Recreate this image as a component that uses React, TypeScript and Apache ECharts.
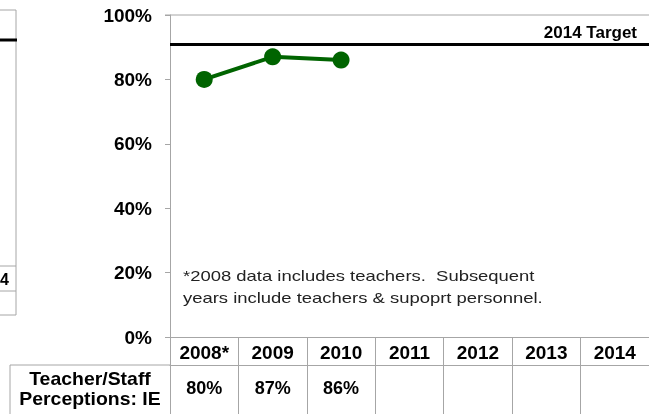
import React, { useEffect, useRef } from "react";
import * as echarts from "echarts";

const categories = ["2008*", "2009", "2010", "2011", "2012", "2013", "2014"];
const perceptionValues = [80, 87, 86, null, null, null, null];
const tableValues = ["80%", "87%", "86%", "", "", "", ""];
const targetValue = 91;
const targetLabel = "2014 Target";
const rowLabel = "Teacher/Staff\nPerceptions: IE";
const footnote = "*2008 data includes teachers.  Subsequent\nyears include teachers & supoprt personnel.";

const FONT = "'Liberation Sans', Arial, sans-serif";
const GRAY = "#a6a6a6";

export default function App() {
  const ref = useRef<HTMLDivElement>(null);
  useEffect(() => {
    if (!ref.current) return;
    const chart = echarts.init(ref.current, null, { renderer: "svg" });
    const gline = (x1: number, y1: number, x2: number, y2: number, stroke = GRAY, lineWidth = 1) => ({
      type: "line",
      shape: { x1, y1, x2, y2 },
      style: { stroke, lineWidth },
      silent: true,
    });
    chart.setOption({
      animation: false,
      grid: { left: 170, top: 15, width: 480, height: 322 },
      xAxis: [
        {
          type: "category",
          data: categories,
          boundaryGap: true,
          axisLine: { show: true, lineStyle: { color: GRAY, width: 1 } },
          axisTick: { show: true, length: 77, interval: 0, lineStyle: { color: GRAY, width: 1 } },
          axisLabel: { interval: 0, margin: 6, color: "#000", fontWeight: "bold", fontSize: 19, fontFamily: FONT },
          splitLine: { show: false },
        },
        {
          type: "category",
          data: tableValues,
          position: "bottom",
          offset: 28,
          boundaryGap: true,
          axisLine: { show: true, lineStyle: { color: GRAY, width: 1 } },
          axisTick: { show: false },
          axisLabel: { interval: 0, margin: 14, color: "#000", fontWeight: "bold", fontSize: 18, fontFamily: FONT },
          splitLine: { show: false },
        },
      ],
      yAxis: {
        type: "value",
        min: 0,
        max: 100,
        interval: 20,
        axisLine: { show: true, lineStyle: { color: GRAY, width: 1 } },
        axisTick: { show: true, length: 5, lineStyle: { color: GRAY } },
        axisLabel: { formatter: "{value}%", margin: 18, color: "#000", fontWeight: "bold", fontSize: 19, fontFamily: FONT },
        splitLine: { show: false },
      },
      series: [
        {
          type: "line",
          xAxisIndex: 0,
          data: perceptionValues,
          symbol: "circle",
          symbolSize: 17,
          lineStyle: { color: "#006400", width: 4 },
          itemStyle: { color: "#006400" },
          markLine: {
            silent: true,
            symbol: "none",
            lineStyle: { color: "#000", width: 3, type: "solid" },
            label: {
              show: true,
              position: "insideEndTop",
              formatter: targetLabel,
              color: "#000",
              fontWeight: "bold",
              fontSize: 17,
              fontFamily: FONT,
              distance: [12, 3],
            },
            data: [{ yAxis: targetValue }],
          },
        },
      ],
      graphic: [
        gline(165, 15, 649, 15),
        gline(10, 365, 170, 365),
        gline(10, 365, 10, 414),
        {
          type: "text",
          x: 90,
          y: 389,
          scaleX: 1.08,
          style: {
            text: rowLabel,
            x: 0,
            y: 0,
            fill: "#000",
            font: `bold 18px ${FONT}`,
            textAlign: "center",
            textVerticalAlign: "middle",
            lineHeight: 20,
          },
          silent: true,
        },
        {
          type: "text",
          x: 183,
          y: 265,
          scaleX: 1.23,
          style: {
            text: footnote,
            x: 0,
            y: 0,
            fill: "#222",
            font: `15px ${FONT}`,
            lineHeight: 22,
          },
          silent: true,
        },
        // partial neighbouring chart on the left edge
        gline(0, 10, 16, 10),
        gline(16, 10, 16, 315),
        gline(0, 40, 17, 40, "#000", 3),
        gline(0, 266, 16, 266),
        gline(0, 291, 16, 291),
        gline(0, 315, 16, 315),
        {
          type: "text",
          x: 0,
          y: 279,
          style: {
            text: "4",
            fill: "#000",
            font: `bold 16px ${FONT}`,
            textAlign: "left",
            textVerticalAlign: "middle",
          },
          silent: true,
        },
      ],
    });
    return () => chart.dispose();
  }, []);
  return <div ref={ref} style={{ position: "fixed", left: 0, top: 0, width: 649, height: 414 }} />;
}
